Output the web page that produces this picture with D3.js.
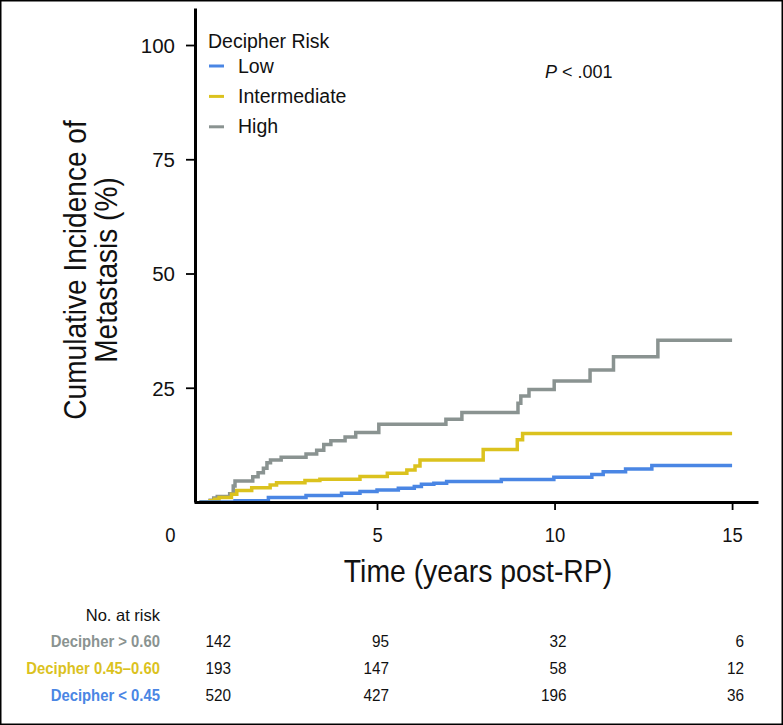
<!DOCTYPE html>
<html><head><meta charset="utf-8">
<script src="https://cdn.jsdelivr.net/npm/d3@7"></script>
<style>
body{margin:0;background:#fff;}
svg{display:block;}
text{font-family:"Liberation Sans",Arial,Helvetica,sans-serif;}
</style></head>
<body>
<svg id="c" width="783" height="725"></svg>
<script>
// ---- data ----
const seriesNames = ["Low", "Intermediate", "High"];
const seriesColors = ["#4a86e4", "#dbc21e", "#8a9391"];
// step points [years, cumulative incidence %]
const lowSteps = [[0,0],[1.0,0.3],[1.94,1.0],[3.0,1.4],[4.0,1.9],[4.52,2.3],[5.0,2.6],[5.6,3.0],[6.05,3.4],[6.25,3.9],[6.6,4.1],[6.96,4.5],[8.5,4.9],[9.98,5.4],[11.05,6.0],[11.37,6.6],[12.0,7.2],[12.74,8.0],[15,8.0]];
const intSteps = [[0,0],[0.3,0.3],[0.42,0.6],[0.55,1.0],[0.9,1.7],[1.05,2.5],[1.47,3.1],[1.99,3.7],[2.17,4.2],[2.97,4.7],[3.39,5.0],[4.52,5.6],[5.29,6.3],[5.84,7.0],[6.07,7.9],[6.21,9.2],[7.99,11.5],[8.95,13.6],[9.1,15.0],[15,15.0]];
const highSteps = [[0,0],[0.3,0.4],[0.4,0.9],[0.5,1.2],[0.85,1.8],[0.95,3.5],[1.0,4.6],[1.5,5.5],[1.65,6.4],[1.8,7.4],[1.9,8.6],[2.0,9.2],[2.3,9.8],[3.0,10.5],[3.3,11.3],[3.5,12.6],[3.7,13.4],[4.1,14.2],[4.4,15.2],[5.05,17.0],[6.94,18.1],[7.39,19.6],[8.97,21.6],[9.05,23.2],[9.28,24.6],[9.99,26.5],[11.0,28.9],[11.66,31.8],[12.91,35.4],[15,35.4]];
const xTicks = [5, 10, 15];
const yTicks = [25, 50, 75, 100];
const riskRowLabels = ["Decipher > 0.60", "Decipher 0.45\u20130.60", "Decipher < 0.45"];
const riskRowColors = ["#8a9391", "#dbc21e", "#4a86e4"];
const riskTimes = [0, 5, 10, 15];
const riskHigh = [142, 95, 32, 6];
const riskInt = [193, 147, 58, 12];
const riskLow = [520, 427, 196, 36];

// ---- chart ----
const svg = d3.select("#c");
function ctext(x, y, size, anchor, str, rot, sx){
  const s = sx || 0.9;
  return svg.append("text")
    .attr("transform", `translate(${x},${y})` + (rot ? ` rotate(${rot})` : "") + ` scale(${s},1)`)
    .attr("font-size", size).attr("text-anchor", anchor).attr("fill", "#111").text(str);
}

svg.append("rect").attr("x",0.75).attr("y",0.75).attr("width",781.5).attr("height",723.5)
  .attr("fill","none").attr("stroke","#000").attr("stroke-width",1.5);

const x = d3.scaleLinear().domain([-0.155, 15.73]).range([194, 758]);
const y = d3.scaleLinear().domain([0, 108.1]).range([502, 8]);

// curves
const line = d3.line().x(d=>x(d[0])).y(d=>y(d[1])).curve(d3.curveStepAfter);
const allSteps = [lowSteps, intSteps, highSteps];
[2,1,0].forEach(idx=>{
  svg.append("path").attr("d", line(allSteps[idx])).attr("fill","none")
    .attr("stroke", seriesColors[idx]).attr("stroke-width",3.5);
});

// y axis
const yAxis = d3.axisLeft(y).tickValues(yTicks).tickSize(9).tickSizeOuter(0).tickPadding(11);
const gy = svg.append("g").attr("transform","translate(195,0)").call(yAxis);
gy.attr("font-family", null);
gy.select(".domain").attr("stroke-width",3);
gy.selectAll(".tick line").attr("stroke-width",1.8);
gy.selectAll("text").attr("font-size",20.5).attr("fill","#111").attr("dy","0.36em");

// x axis
const xAxis = d3.axisBottom(x).tickValues(xTicks).tickSize(8).tickSizeOuter(0);
const gx = svg.append("g").attr("transform","translate(0,502)").call(xAxis);
gx.attr("font-family", null);
gx.select(".domain").attr("stroke-width",3);
gx.selectAll(".tick line").attr("stroke-width",1.8);
gx.selectAll("text").attr("font-size",20.5).attr("fill","#111")
  .attr("y",null).attr("dy",0).attr("transform","translate(0,39.5) scale(0.9,1)");
ctext(x(0)-29, 541.5, 20.5, "middle", "0");

// axis titles
ctext(86, 270, 30.5, "middle", "Cumulative Incidence of", -90, 0.92);
ctext(117, 270, 30.5, "middle", "Metastasis (%)", -90, 0.92);
ctext(478, 582, 30.5, "middle", "Time (years post-RP)", null, 0.93);

// legend
svg.append("text").attr("font-size",19.5).attr("fill","#111")
  .attr("x",208).attr("y",48).text("Decipher Risk");
seriesNames.forEach((n,i)=>{
  const ly = 66 + i*30.4;
  svg.append("line").attr("x1",209).attr("x2",224).attr("y1",ly).attr("y2",ly)
    .attr("stroke",seriesColors[i]).attr("stroke-width",3);
  svg.append("text").attr("font-size",19.5).attr("fill","#111")
    .attr("x",238).attr("y",ly+6.5).text(n);
});

// p value
const pt = svg.append("text").attr("font-size",18).attr("fill","#111")
  .attr("x",545).attr("y",78);
pt.append("tspan").attr("font-style","italic").text("P");
pt.append("tspan").text(" < .001");

// risk table
svg.append("text").attr("font-size",16.5).attr("fill","#111")
  .attr("x",160).attr("y",621).attr("text-anchor","end").text("No. at risk");
const riskRows = [riskHigh, riskInt, riskLow];
const rowY = [646.5, 674, 701];
riskRows.forEach((row,r)=>{
  ctext(160, rowY[r], 16.5, "end", riskRowLabels[r])
    .attr("font-weight","bold").attr("fill",riskRowColors[r]);
  row.forEach((v,j)=>{
    const t = riskTimes[j];
    const first = j===0;
    ctext(first ? x(t)+6 : x(t)+12, rowY[r], 17, first ? "start" : "end", v);
  });
});
</script>
</body></html>
